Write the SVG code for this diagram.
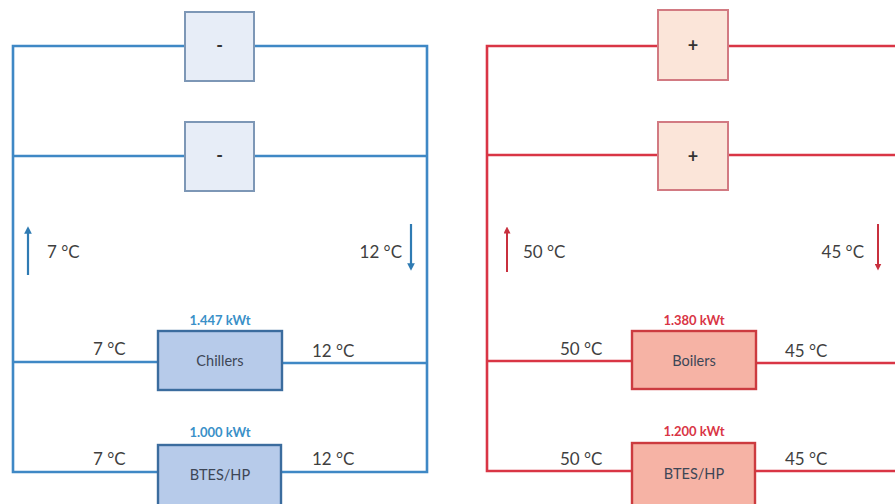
<svg xmlns="http://www.w3.org/2000/svg" width="895" height="504" viewBox="0 0 895 504">
<defs>
<style>
.bl{stroke:#3f88c5;stroke-width:2.6;fill:none}
.rl{stroke:#d93545;stroke-width:2.6;fill:none}
.ba{stroke:#2f7bb3;stroke-width:2.2;fill:none}
.ra{stroke:#c8303e;stroke-width:2;fill:none}
.bsm{fill:#e7edf7;stroke:#7d97b6;stroke-width:2}
.rsm{fill:#fbe5d9;stroke:#d27a82;stroke-width:2}
.bbig{fill:#b7cbea;stroke:#3b6c9e;stroke-width:2.4}
.rbig{fill:#f6b3a5;stroke:#cc3b3f;stroke-width:2.4}
text{font-family:Lato,"Open Sans","Liberation Sans",sans-serif}
.t{font-size:17px;fill:#3f3f3f}
.sign{font-size:18px;font-weight:bold;fill:#333;text-anchor:middle}
.lab{font-size:14.5px;fill:#3d4656;text-anchor:middle}
.kb{font-size:13px;font-weight:bold;fill:#3a90c8;text-anchor:middle}
.kr{font-size:13px;font-weight:bold;fill:#d93545;text-anchor:middle}
</style>
<marker id="ab" viewBox="0 0 10 10" refX="5" refY="5" markerWidth="3.5" markerHeight="3.5" orient="auto"><path d="M0,0 L10,5 L0,10 z" fill="#2f7bb3"/></marker>
<marker id="ar" viewBox="0 0 10 10" refX="5" refY="5" markerWidth="3.5" markerHeight="3.5" orient="auto"><path d="M0,0 L10,5 L0,10 z" fill="#c8303e"/></marker>
</defs>
<g id="connectors">
<path class="bl" d="M185,46 H13 V472 H158 M254,46 H427 V472 H281 M13,156 H185 M254,156 H427 M13,362 H158 M282,363 H427"/>
<path class="ba" d="M28,275 V230" marker-end="url(#ab)"/>
<path class="ba" d="M411,224 V267" marker-end="url(#ab)"/>
<path class="rl" d="M658,46 H487 V471 H632 M728,46 H895 M487,155 H658 M728,155 H895 M487,361 H632 M756,363 H895 M755,471 H895"/>
<path class="ra" d="M507,272 V230" marker-end="url(#ar)"/>
<path class="ra" d="M878,224 V267" marker-end="url(#ar)"/>
</g>
<g id="blue-minus-1"><rect class="bsm" x="185" y="12" width="69" height="69"/><text class="sign" x="219.5" y="52">-</text></g>
<g id="blue-minus-2"><rect class="bsm" x="185" y="122" width="69" height="69"/><text class="sign" x="219.5" y="162">-</text></g>
<g id="chillers"><rect class="bbig" x="158" y="331" width="124" height="59"/><text class="lab" x="220" y="366">Chillers</text><text class="kb" x="220" y="325">1.447 kWt</text></g>
<g id="btes-cold"><rect class="bbig" x="158" y="445" width="123" height="62"/><text class="lab" x="220" y="480">BTES/HP</text><text class="kb" x="220" y="437">1.000 kWt</text></g>
<g id="blue-labels">
<text class="t" x="47" y="258">7 °C</text>
<text class="t" x="402" y="258" text-anchor="end">12 °C</text>
<text class="t" x="93" y="355">7 °C</text>
<text class="t" x="312" y="357">12 °C</text>
<text class="t" x="93" y="465">7 °C</text>
<text class="t" x="312" y="465">12 °C</text>
</g>
<g id="red-plus-1"><rect class="rsm" x="658" y="10" width="70" height="70"/><text class="sign" x="693" y="52">+</text></g>
<g id="red-plus-2"><rect class="rsm" x="658" y="122" width="70" height="68"/><text class="sign" x="693" y="163">+</text></g>
<g id="boilers"><rect class="rbig" x="632" y="331" width="124" height="58"/><text class="lab" x="694" y="366">Boilers</text><text class="kr" x="694" y="325">1.380 kWt</text></g>
<g id="btes-hot"><rect class="rbig" x="632" y="443" width="123" height="64"/><text class="lab" x="694" y="479">BTES/HP</text><text class="kr" x="694" y="436">1.200 kWt</text></g>
<g id="red-labels">
<text class="t" x="523" y="258">50 °C</text>
<text class="t" x="864" y="258" text-anchor="end">45 °C</text>
<text class="t" x="560" y="355">50 °C</text>
<text class="t" x="785" y="357">45 °C</text>
<text class="t" x="560" y="465">50 °C</text>
<text class="t" x="785" y="465">45 °C</text>
</g>
</svg>
